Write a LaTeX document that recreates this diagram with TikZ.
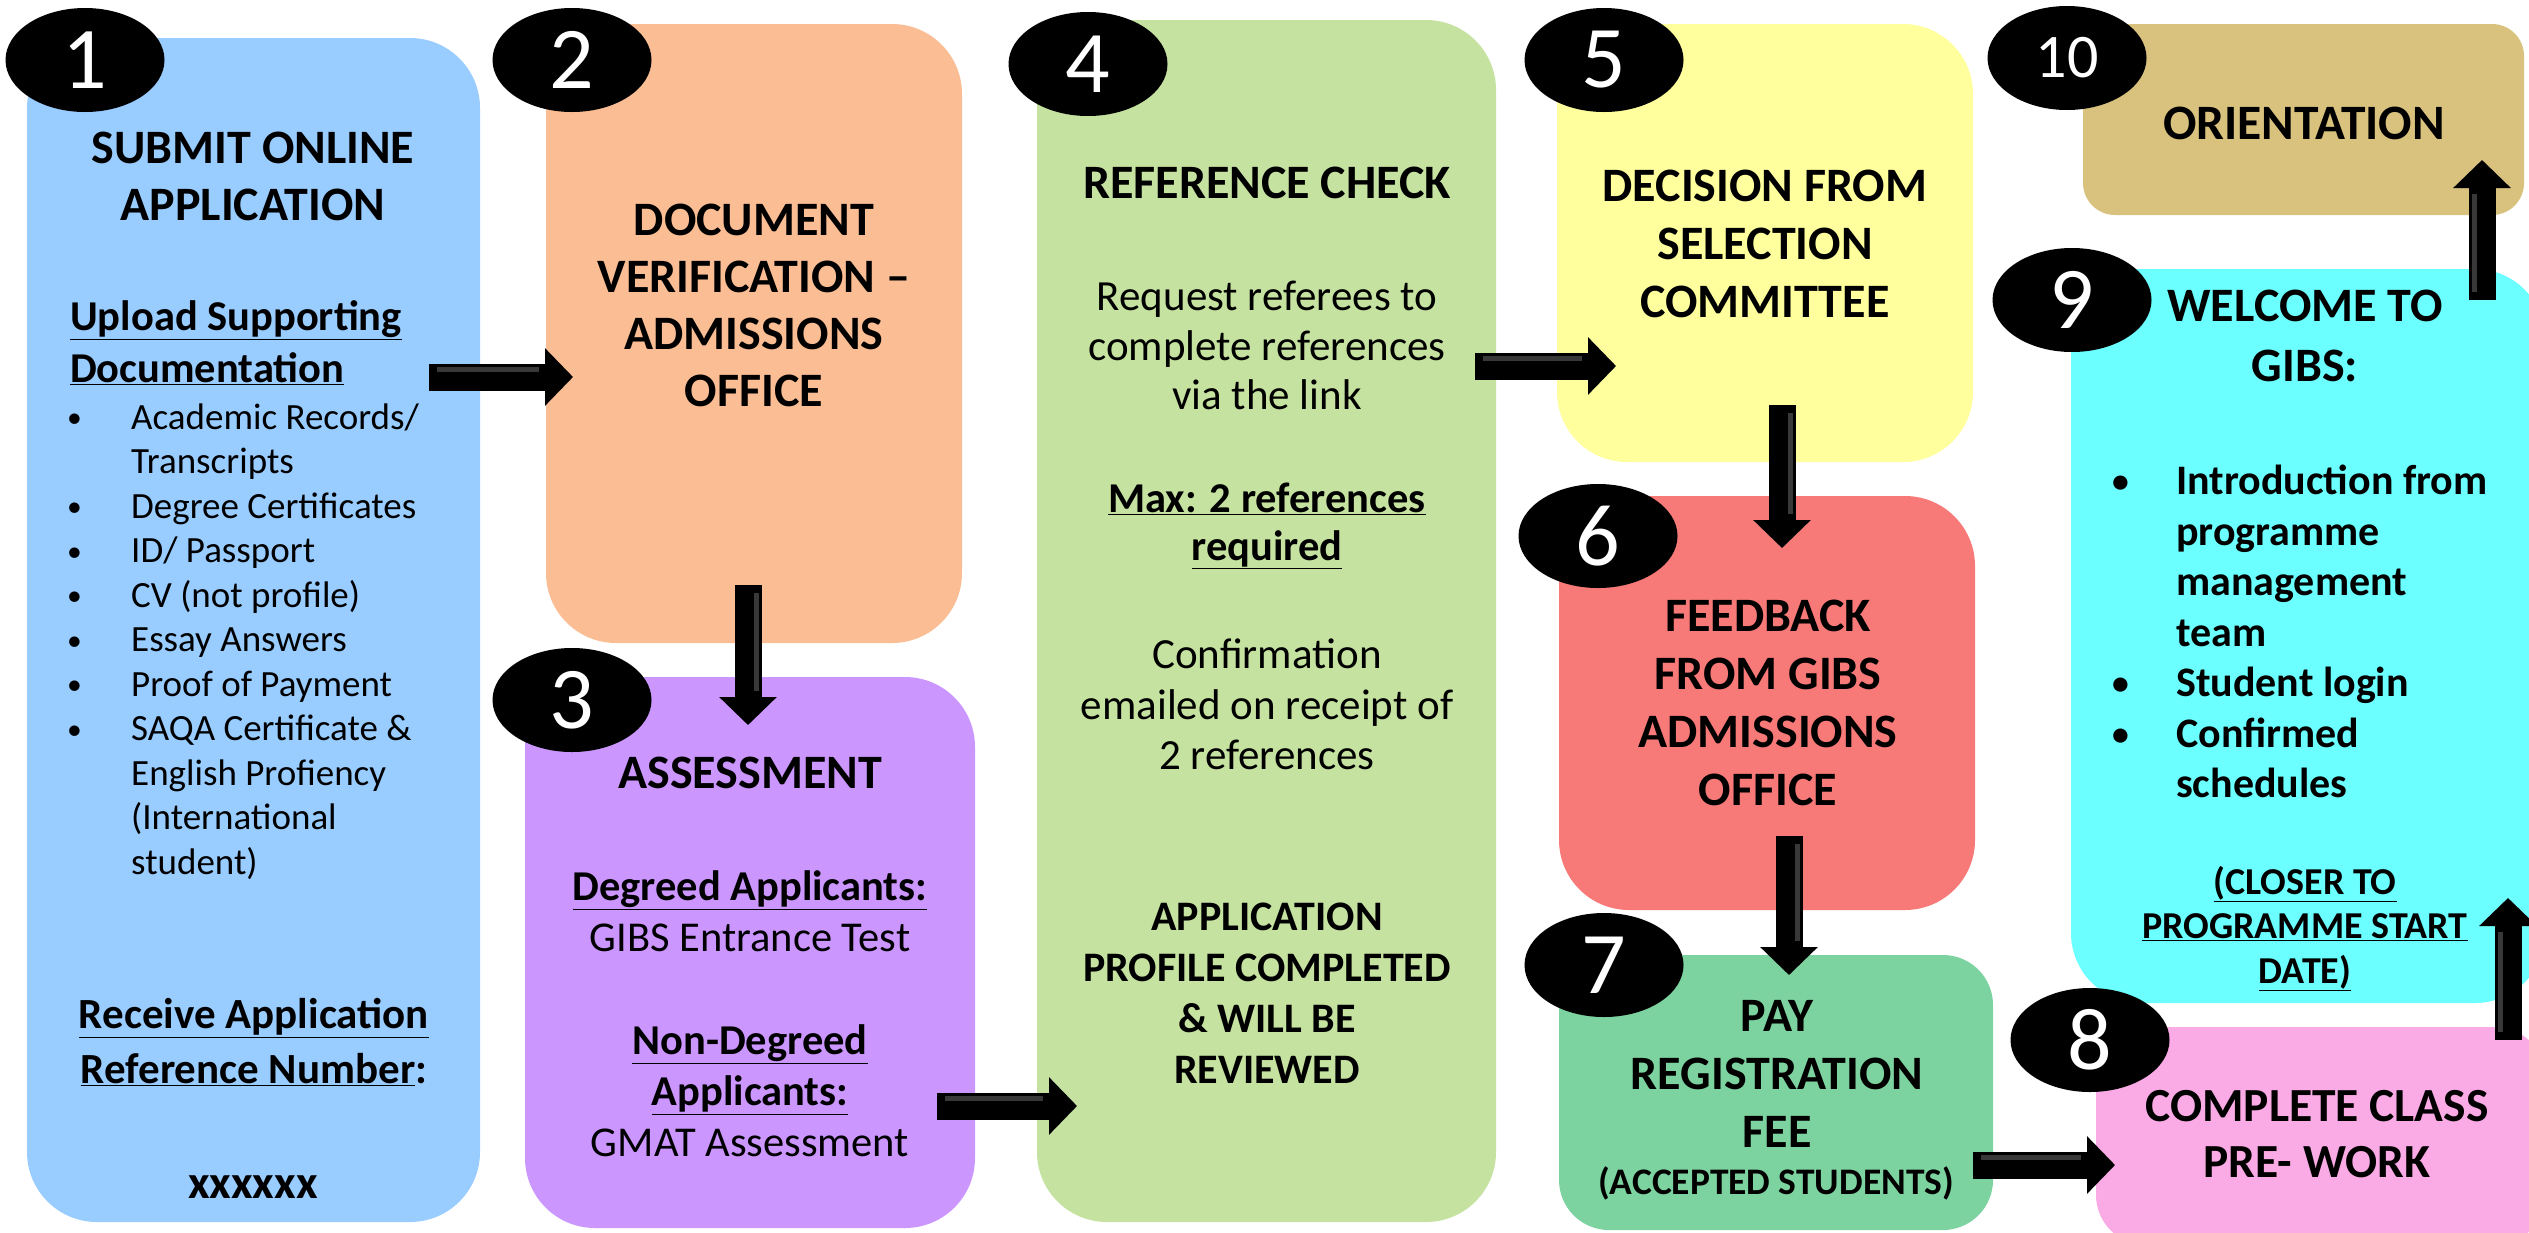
\documentclass[tikz,border=0pt]{standalone}
\usepackage{fontspec}
\setmainfont{Carlito}
\usetikzlibrary{shapes.geometric,arrows.meta}
\definecolor{cA}{RGB}{153,204,255}
\definecolor{cB}{RGB}{251,190,148}
\definecolor{cC}{RGB}{204,150,255}
\definecolor{cD}{RGB}{197,226,160}
\definecolor{cE}{RGB}{255,255,158}
\definecolor{cF}{RGB}{248,122,120}
\definecolor{cG}{RGB}{125,211,160}
\definecolor{cH}{RGB}{250,170,228}
\definecolor{cI}{RGB}{108,255,255}
\definecolor{cJ}{RGB}{217,194,126}
\newcommand\myfs[2]{\fontsize{#1}{#2}\selectfont}
\newcommand\bul{\makebox[64pt][l]{\raisebox{0.1ex}{\scalebox{0.8}{•}}}}
\newcommand\nob{\hspace*{64pt}}
\begin{document}
\begin{tikzpicture}[x=1pt,y=-1pt,
  box/.style={rounded corners=70pt, inner sep=0pt, draw=none},
  numb/.style={ellipse, fill=black, text=white, minimum width=159pt, minimum height=104pt, inner sep=0pt, font=\myfs{88}{90}},
  head/.style={align=center, inner sep=0pt, font=\myfs{48}{57}\bfseries},
  body/.style={align=center, inner sep=0pt},
  blk/.style={line width=27pt, -{Triangle[width=56pt,length=28pt]}, black},
  bev/.style={line width=5pt, black!78},
  shad/.style={line width=27pt, -{Triangle[width=56pt,length=28pt]}, black!40, opacity=0.45}
]
\useasboundingbox (0,0) rectangle (2529,1232);
\clip (0,0) rectangle (2529,1232);
\fill[white] (0,0) rectangle (2529,1232);

% boxes
\node[box, fill=cA, minimum width=453pt, minimum height=1184pt] (b1) at (253.5,630) {};
\node[box, fill=cB, minimum width=416pt, minimum height=619pt] (b2) at (754,333.5) {};
\node[box, fill=cC, minimum width=450pt, minimum height=551pt] (b3) at (750,952.5) {};
\node[box, fill=cD, minimum width=459pt, minimum height=1202pt] (b4) at (1266.5,621) {};
\node[box, fill=cE, minimum width=416pt, minimum height=438pt] (b5) at (1765,243) {};
\node[box, fill=cF, minimum width=416pt, minimum height=414pt] (b6) at (1767,703) {};
\node[box, fill=cG, rounded corners=50pt, minimum width=434pt, minimum height=275pt] (b7) at (1776,1092.5) {};
\node[box, fill=cH, rounded corners=50pt, minimum width=449pt, minimum height=218pt] (b8) at (2320.5,1136) {};
\node[box, fill=cI, minimum width=474pt, minimum height=734pt] (b9) at (2308,636) {};
\node[box, fill=cJ, rounded corners=32pt, minimum width=441pt, minimum height=191pt] (b10) at (2303.5,119.5) {};

% number badges
\node[numb] (n1) at (85,60) {1};
\node[numb] (n2) at (572,60) {2};
\node[numb] (n3) at (572,700) {3};
\node[numb] (n4) at (1088,64) {4};
\node[numb] (n5) at (1604,60) {5};
\node[numb] (n6) at (1598,536) {6};
\node[numb] (n7) at (1604,965) {7};
\node[numb] (n8) at (2090,1040) {8};
\node[numb] (n9) at (2072,300) {9};
\node[numb, font=\myfs{62}{64}] (n10) at (2067,58) {10};

% box 1 text
\node[head] (t1a) at (253,176) {SUBMIT ONLINE\\APPLICATION};
\node[anchor=west, align=left, inner sep=0pt, font=\myfs{42.5}{52}\bfseries] (t1b) at (70,343) {\underline{Upload Supporting}\\\underline{Documentation}};
\node[anchor=west, align=left, inner sep=0pt, font=\myfs{37}{44.5}] (t1c) at (67,641.5) {\bul Academic Records/\\\nob Transcripts\\\bul Degree Certificates\\\bul ID/ Passport\\\bul CV (not profile)\\\bul Essay Answers\\\bul Proof of Payment\\\bul SAQA Certificate \&\\\nob English Profiency\\\nob (International\\\nob student)};
\node[body, font=\myfs{43}{55}\bfseries] (t1d) at (254,1042.5) {\underline{Receive Application}\\\underline{Reference Number}:};
\node[body, font=\myfs{47}{50}\bfseries] (t1e) at (253,1187) {xxxxxx};

% box 2 text
\node[head] (t2) at (754,305.5) {DOCUMENT\\VERIFICATION --\\ADMISSIONS\\OFFICE};

% box 3 text
\node[head] (t3a) at (750,773) {ASSESSMENT};
\node[body, font=\myfs{42.5}{51}] (t3b) at (750,911.5) {\underline{\textbf{Degreed Applicants:}}\\GIBS Entrance Test};
\node[body, font=\myfs{42.5}{51}] (t3c) at (750,1091) {\underline{\textbf{Non-Degreed}}\\\underline{\textbf{Applicants:}}\\GMAT Assessment};

% box 4 text
\node[head] (t4a) at (1267,183) {REFERENCE CHECK};
\node[body, font=\myfs{43}{49.5}] (t4b) at (1267,345.5) {Request referees to\\complete references\\via the link};
\node[body, font=\myfs{42.5}{48}\bfseries] (t4c) at (1267,526) {\underline{Max: 2 references}\\\underline{required}};
\node[body, font=\myfs{43}{50.5}] (t4d) at (1267,704.5) {Confirmation\\emailed on receipt of\\2 references};
\node[body, font=\myfs{42}{51}\bfseries] (t4e) at (1267,993.5) {APPLICATION\\PROFILE COMPLETED\\\& WILL BE\\REVIEWED};

% box 5-8 text
\node[head, font=\myfs{48}{58}\bfseries] (t5) at (1765,244) {DECISION FROM\\SELECTION\\COMMITTEE};
\node[head, font=\myfs{48}{58}\bfseries] (t6) at (1768,703) {FEEDBACK\\FROM GIBS\\ADMISSIONS\\OFFICE};
\node[head, font=\myfs{48}{58}\bfseries] (t7a) at (1777,1073.5) {PAY\\REGISTRATION\\FEE};
\node[body, font=\myfs{37.5}{40}\bfseries] (t7b) at (1776,1183) {(ACCEPTED STUDENTS)};
\node[head, font=\myfs{47.5}{56}\bfseries] (t8) at (2317,1134) {COMPLETE CLASS\\PRE- WORK};

% box 9 text
\node[head, font=\myfs{48}{60}\bfseries] (t9a) at (2305,336) {WELCOME TO\\GIBS:};
\node[anchor=west, align=left, inner sep=0pt, font=\myfs{42}{50.5}\bfseries] (t9b) at (2112,631.5) {\bul Introduction from\\\nob programme\\\nob management\\\nob team\\\bul Student login\\\bul Confirmed\\\nob schedules};
\node[body, font=\myfs{38}{44.5}\bfseries] (t9c) at (2305,928.5) {\underline{(CLOSER TO}\\\underline{PROGRAMME START}\\\underline{DATE)}};

% box 10 text
\node[head, font=\myfs{49.5}{57}\bfseries] (t10) at (2304,123) {ORIENTATION};

% arrow end points
\coordinate (a12s) at (429,377);  \coordinate (a12e) at (573,377);
\coordinate (a23s) at (748,585);  \coordinate (a23e) at (748,725);
\coordinate (a34s) at (937,1106); \coordinate (a34e) at (1077,1106);
\coordinate (a45s) at (1475,366); \coordinate (a45e) at (1616,366);
\coordinate (a56s) at (1782,405); \coordinate (a56e) at (1782,548);
\coordinate (a67s) at (1789,836); \coordinate (a67e) at (1789,975);
\coordinate (a78s) at (1973,1165);\coordinate (a78e) at (2115,1165);
\coordinate (a89s) at (2508,1040);\coordinate (a89e) at (2508,898);
\coordinate (a910s) at (2482,300);\coordinate (a910e) at (2482,160);

% shadows
\begin{scope}[shift={(5,5)}]
\foreach \s/\e in {a12s/a12e,a23s/a23e,a34s/a34e,a45s/a45e,a56s/a56e,a67s/a67e,a78s/a78e,a89s/a89e,a910s/a910e}
  \draw[shad] (\s) -- (\e);
\end{scope}
% arrows
\foreach \s/\e in {a12s/a12e,a23s/a23e,a34s/a34e,a45s/a45e,a56s/a56e,a67s/a67e,a78s/a78e,a89s/a89e,a910s/a910e}
  \draw[blk] (\s) -- (\e);
% bevel highlights on the shafts
\foreach \s/\e in {a12s/a12e,a34s/a34e,a45s/a45e,a78s/a78e}
  \draw[bev] ([shift={(8,-8)}]\s) -- ([shift={(-34,-8)}]\e);
\foreach \s/\e in {a23s/a23e,a56s/a56e,a67s/a67e}
  \draw[bev] ([shift={(8,8)}]\s) -- ([shift={(8,-34)}]\e);
\foreach \s/\e in {a89s/a89e,a910s/a910e}
  \draw[bev] ([shift={(-8,-8)}]\s) -- ([shift={(-8,34)}]\e);
\end{tikzpicture}
\end{document}
